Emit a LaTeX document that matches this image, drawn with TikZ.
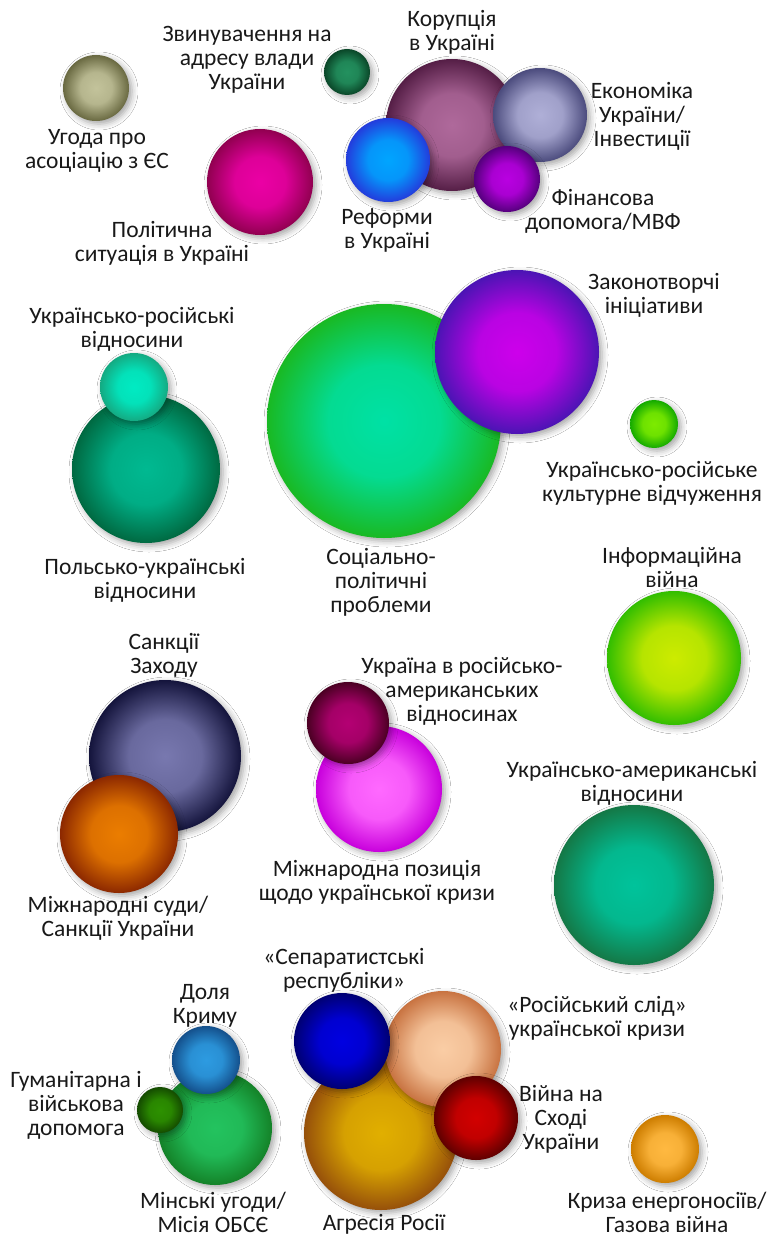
\documentclass[tikz,border=0pt]{standalone}
\usepackage{fontspec}
\setmainfont{Carlito}
\usetikzlibrary{shadows.blur}
\colorlet{bubin}{white}
\colorlet{bubout}{black}
\pgfdeclareradialshading[bubin,bubout]{bubble}{\pgfpoint{0bp}{0bp}}{color(0bp)=(bubin); color(12bp)=(bubin!85!bubout); color(25bp)=(bubout); color(50bp)=(bubout)}
\definecolor{labeltext}{RGB}{25,25,25}
\definecolor{ugodaA}{RGB}{195,195,155}\definecolor{ugodaB}{RGB}{105,105,65}
\definecolor{zvynA}{RGB}{35,145,95}\definecolor{zvynB}{RGB}{10,70,40}
\definecolor{korupA}{RGB}{175,105,155}\definecolor{korupB}{RGB}{85,30,70}
\definecolor{ekonA}{RGB}{175,175,215}\definecolor{ekonB}{RGB}{75,75,125}
\definecolor{reformA}{RGB}{0,165,255}\definecolor{reformB}{RGB}{35,60,220}
\definecolor{finansA}{RGB}{185,0,225}\definecolor{finansB}{RGB}{85,0,125}
\definecolor{politA}{RGB}{235,0,165}\definecolor{politB}{RGB}{145,0,80}
\definecolor{sotsA}{RGB}{0,225,165}\definecolor{sotsB}{RGB}{25,185,35}
\definecolor{zakonA}{RGB}{205,0,235}\definecolor{zakonB}{RGB}{75,20,180}
\definecolor{polskoA}{RGB}{0,185,145}\definecolor{polskoB}{RGB}{0,105,65}
\definecolor{ukrrosA}{RGB}{0,235,195}\definecolor{ukrrosB}{RGB}{20,170,130}
\definecolor{kulturA}{RGB}{125,235,0}\definecolor{kulturB}{RGB}{20,170,0}
\definecolor{informA}{RGB}{205,235,0}\definecolor{informB}{RGB}{50,190,0}
\definecolor{sanktsA}{RGB}{120,120,175}\definecolor{sanktsB}{RGB}{20,20,60}
\definecolor{sudyA}{RGB}{235,125,0}\definecolor{sudyB}{RGB}{140,40,0}
\definecolor{pozytsA}{RGB}{255,105,255}\definecolor{pozytsB}{RGB}{200,0,220}
\definecolor{rosamerA}{RGB}{180,0,115}\definecolor{rosamerB}{RGB}{75,0,35}
\definecolor{ukramerA}{RGB}{0,195,155}\definecolor{ukramerB}{RGB}{20,120,70}
\definecolor{minskA}{RGB}{35,195,95}\definecolor{minskB}{RGB}{20,130,40}
\definecolor{dolyaA}{RGB}{45,155,225}\definecolor{dolyaB}{RGB}{20,80,140}
\definecolor{humanA}{RGB}{45,145,0}\definecolor{humanB}{RGB}{20,75,0}
\definecolor{ahresA}{RGB}{225,175,0}\definecolor{ahresB}{RGB}{150,80,10}
\definecolor{rosslidA}{RGB}{250,205,165}\definecolor{rosslidB}{RGB}{200,115,65}
\definecolor{separA}{RGB}{0,0,225}\definecolor{separB}{RGB}{0,0,115}
\definecolor{viynaA}{RGB}{210,0,0}\definecolor{viynaB}{RGB}{95,0,0}
\definecolor{kryzaA}{RGB}{255,185,65}\definecolor{kryzaB}{RGB}{205,125,0}

\begin{document}
\begin{tikzpicture}[x=1pt, y=-1pt,
    bubble/.style n args={3}{circle, inner sep=0pt, minimum size=#3*2pt,
      /utils/exec={\colorlet{bubin}{#1}\colorlet{bubout}{#2}}, shading=bubble,
      blur shadow={shadow xshift=3pt, shadow yshift=-3pt, shadow blur radius=6pt, shadow opacity=35}},
    lbl/.style={align=center, text=labeltext, inner sep=0pt, font=\fontsize{23.5}{24}\selectfont}]
    \fill [white] (0, 0) rectangle (768, 1238);
    \useasboundingbox (0, 0) rectangle (768, 1238);
    % top group
    \node [bubble={ugodaA}{ugodaB}{33}] (ugoda) at (96, 88) {};
    \node [bubble={zvynA}{zvynB}{23}] (zvyn) at (347, 72) {};
    \node [bubble={korupA}{korupB}{66}] (korup) at (452, 125) {};
    \node [bubble={ekonA}{ekonB}{47}] (ekon) at (540, 115) {};
    \node [bubble={reformA}{reformB}{42}] (reform) at (388, 160) {};
    \node [bubble={finansA}{finansB}{33}] (finans) at (507, 179) {};
    \node [bubble={politA}{politB}{53}] (polit) at (260, 182) {};
    \node [lbl] (t-ugoda) at (97, 151) {Угода про\\асоціацію з ЄС};
    \node [lbl] (t-zvyn) at (247, 60) {Звинувачення на\\адресу влади\\України};
    \node [lbl] (t-korup) at (452, 32) {Корупція\\в Україні};
    \node [lbl] (t-ekon) at (642, 116) {Економіка\\України/\\Інвестиції};
    \node [lbl] (t-reform) at (387, 230) {Реформи\\в Україні};
    \node [lbl] (t-finans) at (603, 211) {Фінансова\\допомога/МВФ};
    \node [lbl] (t-polit) at (162, 243) {Політична\\ситуація в Україні};
    % second group
    \node [bubble={sotsA}{sotsB}{117}] (sots) at (384, 421) {};
    \node [bubble={zakonA}{zakonB}{82}] (zakon) at (517, 352) {};
    \node [bubble={polskoA}{polskoB}{74}] (polsko) at (146, 469) {};
    \node [bubble={ukrrosA}{ukrrosB}{34}] (ukrros) at (134, 387) {};
    \node [bubble={kulturA}{kulturB}{24}] (kultur) at (654, 424) {};
    \node [bubble={informA}{informB}{67}] (inform) at (674, 658) {};
    \node [lbl] (t-zakon) at (654, 295) {Законотворчі\\ініціативи};
    \node [lbl] (t-ukrros) at (132, 329) {Українсько-російські\\відносини};
    \node [lbl] (t-kultur) at (652, 483) {Українсько-російське\\культурне відчуження};
    \node [lbl] (t-polsko) at (145, 580) {Польсько-українські\\відносини};
    \node [lbl] (t-sots) at (381, 582) {Соціально-\\політичні\\проблеми};
    \node [lbl] (t-inform) at (672, 567) {Інформаційна\\війна};
    % third group
    \node [bubble={sanktsA}{sanktsB}{76}] (sankts) at (165, 756) {};
    \node [bubble={sudyA}{sudyB}{59}] (sudy) at (119, 834) {};
    \node [bubble={pozytsA}{pozytsB}{63}] (pozyts) at (379, 789) {};
    \node [bubble={rosamerA}{rosamerB}{41}] (rosamer) at (348, 723) {};
    \node [bubble={ukramerA}{ukramerB}{80}] (ukramer) at (634, 885) {};
    \node [lbl] (t-sankts) at (164, 655) {Санкції\\Заходу};
    \node [lbl] (t-sudy) at (118, 918) {Міжнародні суди/\\Санкції України};
    \node [lbl] (t-rosamer) at (462, 691) {Україна в російсько-\\американських\\відносинах};
    \node [lbl] (t-pozyts) at (377, 882) {Міжнародна позиція\\щодо української кризи};
    \node [lbl] (t-ukramer) at (632, 783) {Українсько-американські\\відносини};
    % bottom group
    \node [bubble={minskA}{minskB}{57}] (minsk) at (215, 1128) {};
    \node [bubble={dolyaA}{dolyaB}{34}] (dolya) at (206, 1060) {};
    \node [bubble={humanA}{humanB}{23}] (human) at (160, 1110) {};
    \node [bubble={ahresA}{ahresB}{77}] (ahres) at (381, 1133) {};
    \node [bubble={rosslidA}{rosslidB}{58}] (rosslid) at (443, 1049) {};
    \node [bubble={separA}{separB}{48}] (separ) at (342, 1041) {};
    \node [bubble={viynaA}{viynaB}{42}] (viyna) at (476, 1118) {};
    \node [bubble={kryzaA}{kryzaB}{34}] (kryza) at (665, 1149) {};
    \node [lbl] (t-separ) at (344, 970) {«Сепаратистські\\республіки»};
    \node [lbl] (t-dolya) at (205, 1006) {Доля\\Криму};
    \node [lbl] (t-human) at (76, 1105) {Гуманітарна і\\військова\\допомога};
    \node [lbl] (t-minsk) at (213, 1212) {Мінські угоди/\\Місія ОБСЄ};
    \node [lbl] (t-rosslid) at (597, 1018) {«Російський слід»\\української кризи};
    \node [lbl] (t-viyna) at (561, 1119) {Війна на\\Сході\\України};
    \node [lbl] (t-kryza) at (667, 1212) {Криза енергоносіїв/\\Газова війна};
    \node [lbl, anchor=base] (t-ahres) at (384, 1230) {Агресія Росії};
\end{tikzpicture}
\end{document}
